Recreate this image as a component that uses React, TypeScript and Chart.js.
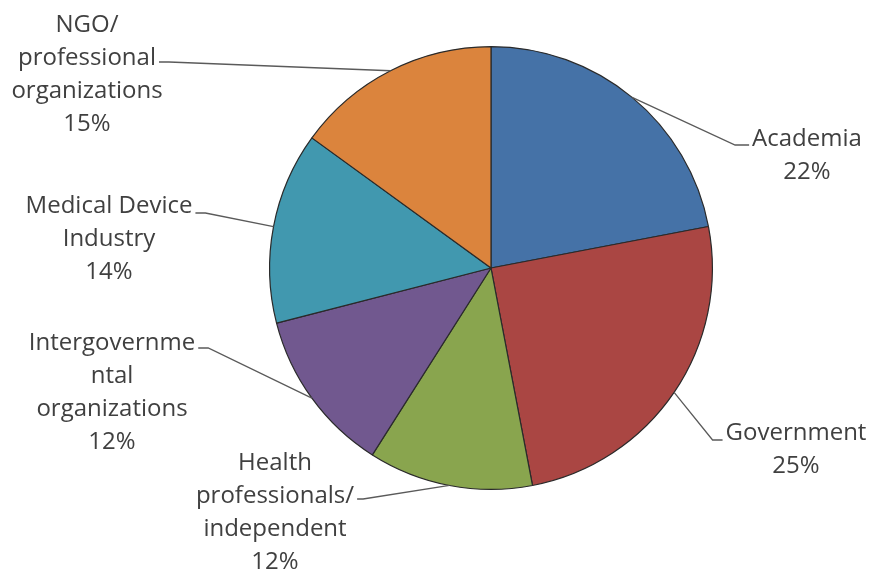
import React, { useEffect, useRef } from "react";
import { Chart, registerables } from "chart.js";

Chart.register(...registerables);

// ---- data ----
const categories = [
  "Academia",
  "Government",
  "Health professionals/ independent",
  "Intergovernmental organizations",
  "Medical Device Industry",
  "NGO/ professional organizations",
];
const shares = [22, 25, 12, 12, 14, 15];
const labelLines = [
  ["Academia"],
  ["Government"],
  ["Health", "professionals/", "independent"],
  ["Intergovernme", "ntal", "organizations"],
  ["Medical Device", "Industry"],
  ["NGO/", "professional", "organizations"],
];
const sliceColors = ["#4572A7", "#AA4643", "#89A54E", "#71588F", "#4198AF", "#DB843D"];

// ---- label layout (style only) ----
const labelLayout = [
  { cx: 807, base: 146, attach: 0, side: "right", dy: -1, stub: 14 },
  { cx: 796, base: 440, attach: 0, side: "right", dy: 0, stub: 10 },
  { cx: 275, base: 470, attach: 1, side: "left", dy: -4, stub: 6 },
  { cx: 112, base: 350, attach: 0, side: "left", dy: -2, stub: 10 },
  { cx: 109, base: 213, attach: 0, side: "left", dy: 0, stub: 10 },
  { cx: 87, base: 32, attach: 1, side: "left", dy: -3, stub: 10 },
];
const LINE_H = 33;
const FONT = '24px "Open Sans", Lato, sans-serif';

const labelPlugin = {
  id: "pieLabels",
  afterDatasetsDraw(chart: any) {
    const ctx = chart.ctx;
    const meta = chart.getDatasetMeta(0);
    ctx.save();
    ctx.font = FONT;
    ctx.textAlign = "center";
    ctx.textBaseline = "alphabetic";
    const total = shares.reduce((a, b) => a + b, 0);
    meta.data.forEach((arc: any, i: number) => {
      const { x, y, startAngle, endAngle, outerRadius } = arc.getProps(
        ["x", "y", "startAngle", "endAngle", "outerRadius"],
        true
      );
      const mid = (startAngle + endAngle) / 2;
      const px = x + Math.cos(mid) * outerRadius;
      const py = y + Math.sin(mid) * outerRadius;
      const L = labelLayout[i];
      const lines = labelLines[i];
      const pct = Math.round((shares[i] / total) * 100) + "%";
      const all = [...lines, pct];
      ctx.fillStyle = "#404040";
      all.forEach((t, k) => ctx.fillText(t, L.cx, L.base + k * LINE_H));
      const w = ctx.measureText(lines[L.attach]).width;
      const ly = L.base + L.attach * LINE_H + L.dy;
      const ex = L.side === "right" ? L.cx - w / 2 - 3 : L.cx + w / 2 + 3;
      const elx = L.side === "right" ? ex - L.stub : ex + L.stub;
      ctx.strokeStyle = "#5a5a5a";
      ctx.lineWidth = 1.3;
      ctx.beginPath();
      ctx.moveTo(px, py);
      ctx.lineTo(elx, ly);
      ctx.lineTo(ex, ly);
      ctx.stroke();
    });
    ctx.restore();
  },
};

export default function App() {
  const ref = useRef<HTMLCanvasElement | null>(null);
  useEffect(() => {
    if (!ref.current) return;
    const chart = new Chart(ref.current, {
      type: "pie",
      data: {
        labels: categories,
        datasets: [
          {
            data: shares,
            backgroundColor: sliceColors,
            borderColor: "#2a2a2a",
            borderWidth: 1.2,
          },
        ],
      },
      options: {
        animation: false,
        responsive: true,
        maintainAspectRatio: false,
        layout: { padding: { left: 269, top: 46, right: 160, bottom: 83 } },
        plugins: {
          legend: { display: false },
          tooltip: { enabled: false },
          title: { display: false },
        },
      },
      plugins: [labelPlugin],
    });
    return () => chart.destroy();
  }, []);
  return (
    <div style={{ position: "fixed", left: 0, top: 0, width: 873, height: 573, background: "#fff" }}>
      <canvas ref={ref} />
    </div>
  );
}
